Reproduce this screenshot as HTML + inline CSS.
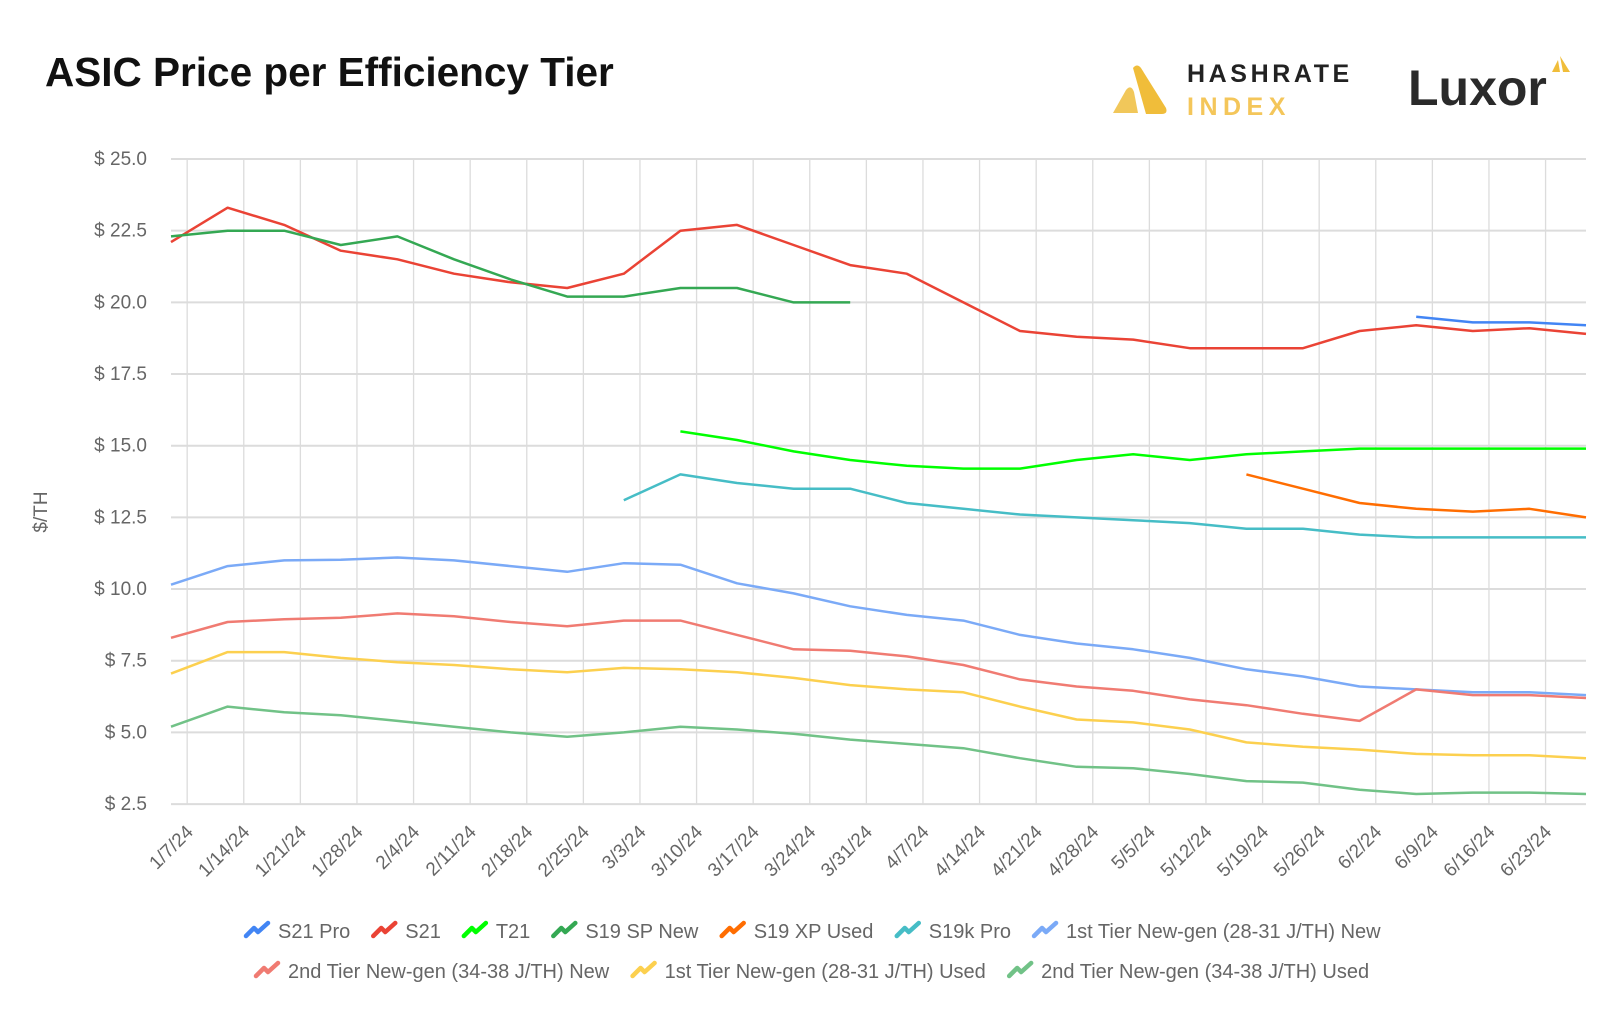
<!DOCTYPE html>
<html><head><meta charset="utf-8"><style>
body{margin:0;background:#fff;width:1624px;height:1018px;overflow:hidden;font-family:"Liberation Sans",sans-serif}
</style></head><body>
<svg width="1624" height="1018" xmlns="http://www.w3.org/2000/svg">
<text x="45" y="86" font-size="40.5" font-weight="bold" fill="#111">ASIC Price per Efficiency Tier</text>
<g>
<path d="M1113 113 L1126 90 Q1131 84 1134 92 L1138 113 Z" fill="#f1c75a"/>
<path d="M1133 68 Q1137 63 1141 68 L1166 108 Q1168 114 1162 114 L1146 114 Z" fill="#f0bd3a"/>
<text x="1187" y="82" font-size="25" font-weight="bold" letter-spacing="3.6" fill="#222">HASHRATE</text>
<text x="1187" y="115" font-size="25" font-weight="bold" letter-spacing="5.5" fill="#f4c65a">INDEX</text>
</g>
<g>
<text x="1408" y="105" font-size="50" font-weight="bold" fill="#2a2a2a">Luxor</text>
<path d="M1552 72 L1558 60 L1560 72 Z M1560 56 L1570 72 L1563 72 Z" fill="#f0bd3a"/>
</g>
<g id="grid"></g>
<g id="yaxis"></g>
<g id="xaxis"></g>
<g id="series"></g>
<text transform="translate(47,512) rotate(-90)" text-anchor="middle" font-size="19" fill="#666">$/TH</text>
<g id="legend"></g>
</svg>
<script>
const xLabels=["1/7/24","1/14/24","1/21/24","1/28/24","2/4/24","2/11/24","2/18/24","2/25/24","3/3/24","3/10/24","3/17/24","3/24/24","3/31/24","4/7/24","4/14/24","4/21/24","4/28/24","5/5/24","5/12/24","5/19/24","5/26/24","6/2/24","6/9/24","6/16/24","6/23/24"];
const yTicks=[2.5,5,7.5,10,12.5,15,17.5,20,22.5,25];
const seriesNames=["S21 Pro","S21","T21","S19 SP New","S19 XP Used","S19k Pro","1st Tier New-gen (28-31 J/TH) New","2nd Tier New-gen (34-38 J/TH) New","1st Tier New-gen (28-31 J/TH) Used","2nd Tier New-gen (34-38 J/TH) Used"];
const colors=["#4285f4","#ea4335","#00ff00","#34a853","#ff6d01","#46bdc6","#7baaf7","#f07b72","#fcd04f","#71c287"];
const N=null;
const s21pro=[N,N,N,N,N,N,N,N,N,N,N,N,N,N,N,N,N,N,N,N,N,N,19.5,19.3,19.3,19.2];
const s21=[22.1,23.3,22.7,21.8,21.5,21.0,20.7,20.5,21.0,22.5,22.7,22.0,21.3,21.0,20.0,19.0,18.8,18.7,18.4,18.4,18.4,19.0,19.2,19.0,19.1,18.9];
const t21=[N,N,N,N,N,N,N,N,N,15.5,15.2,14.8,14.5,14.3,14.2,14.2,14.5,14.7,14.5,14.7,14.8,14.9,14.9,14.9,14.9,14.9];
const s19sp=[22.3,22.5,22.5,22.0,22.3,21.5,20.8,20.2,20.2,20.5,20.5,20.0,20.0,N,N,N,N,N,N,N,N,N,N,N,N,N];
const s19xp=[N,N,N,N,N,N,N,N,N,N,N,N,N,N,N,N,N,N,N,14.0,13.5,13.0,12.8,12.7,12.8,12.5];
const s19k=[N,N,N,N,N,N,N,N,13.1,14.0,13.7,13.5,13.5,13.0,12.8,12.6,12.5,12.4,12.3,12.1,12.1,11.9,11.8,11.8,11.8,11.8];
const t1new=[10.15,10.8,11.0,11.02,11.1,11.0,10.8,10.6,10.9,10.85,10.2,9.85,9.4,9.1,8.9,8.4,8.1,7.9,7.6,7.2,6.95,6.6,6.5,6.4,6.4,6.3];
const t2new=[8.3,8.85,8.95,9.0,9.15,9.05,8.85,8.7,8.9,8.9,8.4,7.9,7.85,7.65,7.35,6.85,6.6,6.45,6.15,5.95,5.65,5.4,6.5,6.3,6.3,6.2];
const t1used=[7.05,7.8,7.8,7.6,7.45,7.35,7.2,7.1,7.25,7.2,7.1,6.9,6.65,6.5,6.4,5.9,5.45,5.35,5.1,4.65,4.5,4.4,4.25,4.2,4.2,4.1];
const t2used=[5.2,5.9,5.7,5.6,5.4,5.2,5.0,4.85,5.0,5.2,5.1,4.95,4.75,4.6,4.45,4.1,3.8,3.75,3.55,3.3,3.25,3.0,2.85,2.9,2.9,2.85];
const allSeries=[s21pro,s21,t21,s19sp,s19xp,s19k,t1new,t2new,t1used,t2used];
const NS="http://www.w3.org/2000/svg";
function xDay(d){return 171+(d+2)*(1586-171)/175;}
function xPt(k){return xDay(-2+7*k);}
function y(v){return 159+(25-v)*28.67;}
function mk(t,a,p){const e=document.createElementNS(NS,t);for(const k in a)e.setAttribute(k,a[k]);p.appendChild(e);return e;}
const grid=document.getElementById('grid'),ya=document.getElementById('yaxis'),xa=document.getElementById('xaxis'),sg=document.getElementById('series'),lg=document.getElementById('legend');
yTicks.forEach(v=>{
 const l=mk('line',{x1:171,x2:1586,y1:y(v),y2:y(v),stroke:'#dcdcdc','stroke-width':2},grid);
 
 
 const t=mk('text',{x:147,y:y(v)+6,'text-anchor':'end','font-size':19,fill:'#666'},ya);
 t.textContent='$ '+v.toFixed(1);
 
 
});
xLabels.forEach((s,i)=>{
 const x=xDay(7*i);
 const l=mk('line',{x1:x,x2:x,y1:159,y2:805,stroke:'#dcdcdc','stroke-width':1.3},grid);
 
 
 const t=mk('text',{transform:`translate(${x+7},833) rotate(-45)`,'text-anchor':'end','font-size':19,fill:'#666'},xa);
 t.textContent=s;
 
 
});
allSeries.forEach((arr,si)=>{
 let d='',pen=false;
 arr.forEach((v,k)=>{if(v===null){pen=false;return;}d+=(pen?'L':'M')+xPt(k).toFixed(1)+' '+y(v).toFixed(1)+' ';pen=true;});
 const p=mk('path',{d:d,fill:'none',stroke:colors[si],'stroke-width':2.5,'stroke-linejoin':'round'},sg);
 
 
});
const rows=[[0,1,2,3,4,5,6],[7,8,9]];
const rowStart=[244,254],rowY=[938,978];
const ctx=document.createElement('canvas').getContext('2d');ctx.font='20px "Liberation Sans"';
rows.forEach((r,ri)=>{
 let x=rowStart[ri];
 r.forEach(si=>{
  const g=mk('g',{},lg);
  
  
  const yy=rowY[ri];
  mk('path',{d:`M${x+2} ${yy-2} L${x+10} ${yy-10} L${x+14} ${yy-6} L${x+24} ${yy-15}`,fill:'none',stroke:colors[si],'stroke-width':4.5,'stroke-linecap':'round','stroke-linejoin':'round'},g);
  const t=mk('text',{x:x+34,y:yy,'font-size':20,fill:'#666'},g);
  t.textContent=seriesNames[si];
  x+=34+ctx.measureText(seriesNames[si]).width+21;
 });
});
</script>
</body></html>
